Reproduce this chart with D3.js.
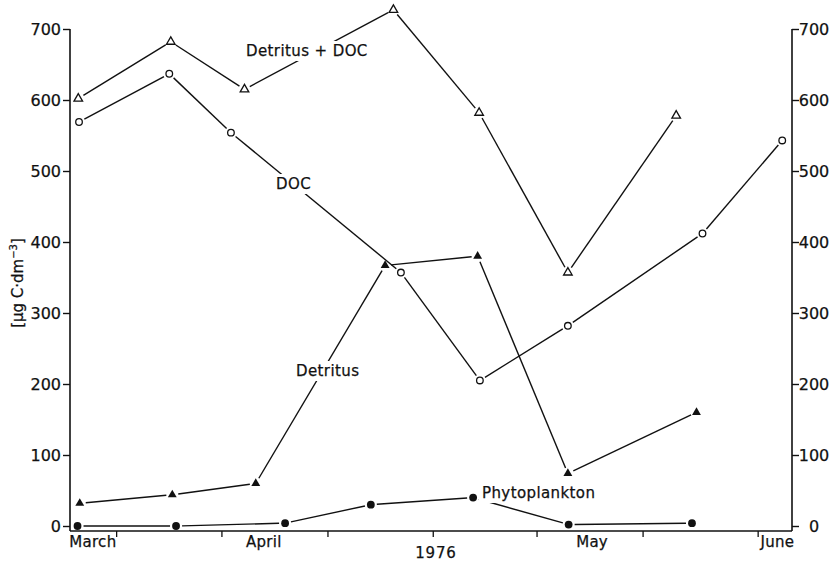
<!DOCTYPE html>
<html>
<head>
<meta charset="utf-8">
<script src="https://cdn.jsdelivr.net/npm/d3@7"></script>
<style>
  html, body { margin: 0; padding: 0; background: #fff; }
  svg { display: block; }
  text { font-family: "DejaVu Sans", sans-serif; fill: #111; stroke: #111; stroke-width: 0.25px; }
</style>
</head>
<body>
<svg id="chart" width="831" height="561"></svg>
<script>
// ---- Data (x in days after 1 March 1976, y in µg C·dm⁻³) ----
const detDocDays   = [1.1, 13.4, 23.2, 43.0, 54.4, 66.2, 80.6];
const detDocValues = [602, 682, 615, 727, 582, 357, 578];

const docDays   = [1.2, 13.2, 21.4, 44.0, 54.5, 66.2, 84.1, 94.7];
const docValues = [569, 637, 554, 357, 205, 282, 412, 543];

const detDays   = [1.3, 13.6, 24.7, 41.9, 54.2, 66.2, 83.3];
const detValues = [32, 44, 60, 367, 380, 74, 160];

const phytoDays   = [1.0, 14.1, 28.6, 40.0, 53.6, 66.3, 82.7];
const phytoValues = [0, 0, 4, 30, 40, 2, 4];

const yTicks = [0, 100, 200, 300, 400, 500, 600, 700];
const xTickDays = [6.2, 20.2, 34.3, 48.3, 62.1, 76.2, 91.5];
const monthNames = ["March", "April", "May", "June"];
const monthLabelDays = [-0.1, 23.4, 67.3, 91.8];
const yearLabel = "1976";
const yearLabelDay = 45.9;

const svg = d3.select("#chart");
const x = d3.scaleLinear().domain([0, 96]).range([70, 792]);
const y = d3.scaleLinear().domain([0, 700]).range([526, 29]);
const axisY = 531;

// axes lines
svg.append("line").attr("x1", x(0)).attr("x2", x(0)).attr("y1", y(700)).attr("y2", axisY)
  .attr("stroke", "#111").attr("stroke-width", 1.6);
svg.append("line").attr("x1", x(96)).attr("x2", x(96)).attr("y1", y(700)).attr("y2", axisY)
  .attr("stroke", "#111").attr("stroke-width", 1.6);
svg.append("line").attr("x1", x(0)).attr("x2", x(96)).attr("y1", axisY).attr("y2", axisY)
  .attr("stroke", "#111").attr("stroke-width", 1.6);

const leftAxis = d3.axisLeft(y).tickValues(yTicks).tickSize(7).tickPadding(2).tickFormat(d3.format("d"));
const gl = svg.append("g").attr("transform", `translate(${x(0)},0)`).call(leftAxis);
gl.select(".domain").remove();
gl.selectAll("line").attr("stroke", "#111").attr("stroke-width", 1.4);
gl.selectAll("text").attr("font-size", 16).attr("font-family", "DejaVu Sans").attr("fill", "#111");

const rightAxis = d3.axisRight(y).tickValues(yTicks).tickSize(7).tickPadding(0).tickFormat(d3.format("d"));
const gr = svg.append("g").attr("transform", `translate(${x(96)},0)`).call(rightAxis);
gr.select(".domain").remove();
gr.selectAll("line").attr("stroke", "#111").attr("stroke-width", 1.4);
gr.selectAll("text").attr("font-size", 16).attr("font-family", "DejaVu Sans").attr("fill", "#111")
  .attr("text-anchor", "middle").attr("x", 22);

// bottom ticks
svg.append("g").selectAll("line").data(xTickDays).join("line")
  .attr("x1", d => x(d)).attr("x2", d => x(d)).attr("y1", axisY).attr("y2", axisY + 6)
  .attr("stroke", "#111").attr("stroke-width", 1.3);

svg.append("g").selectAll("text").data(monthNames).join("text")
  .attr("x", (d, i) => x(monthLabelDays[i])).attr("y", 547)
  .attr("font-size", 15).attr("letter-spacing", 0.3).text(d => d);
svg.append("text").attr("x", x(yearLabelDay)).attr("y", 558).attr("font-size", 15)
  .attr("letter-spacing", 0.8).text(yearLabel);

// y axis title
const yt = svg.append("text").attr("transform", "translate(23,283) rotate(-90)")
  .attr("text-anchor", "middle").attr("font-size", 15);
yt.append("tspan").text("[µg C·dm");
yt.append("tspan").attr("font-size", 10).attr("dy", -6).text("−3");
yt.append("tspan").attr("dy", 6).text("]");

// series
function drawSeries(days, values, gap) {
  const pts = days.map((d, i) => [x(d), y(values[i])]);
  const g = svg.append("g");
  for (let i = 0; i < pts.length - 1; i++) {
    const [x1, y1] = pts[i], [x2, y2] = pts[i + 1];
    const len = Math.hypot(x2 - x1, y2 - y1);
    const ux = (x2 - x1) / len, uy = (y2 - y1) / len;
    g.append("line")
      .attr("x1", x1 + ux * gap).attr("y1", y1 + uy * gap)
      .attr("x2", x2 - ux * gap).attr("y2", y2 - uy * gap)
      .attr("stroke", "#111").attr("stroke-width", 1.4);
  }
  return pts;
}

const tri = d3.symbol().type(d3.symbolTriangle).size(32)();
const p1 = drawSeries(detDocDays, detDocValues, 6);
svg.append("g").selectAll("path").data(p1).join("path")
  .attr("d", tri).attr("transform", d => `translate(${d[0]},${d[1]})`)
  .attr("fill", "#fff").attr("stroke", "#111").attr("stroke-width", 1.3);

const p2 = drawSeries(docDays, docValues, 6);
svg.append("g").selectAll("circle").data(p2).join("circle")
  .attr("cx", d => d[0]).attr("cy", d => d[1]).attr("r", 3.3)
  .attr("fill", "#fff").attr("stroke", "#111").attr("stroke-width", 1.3);

const p3 = drawSeries(detDays, detValues, 6);
svg.append("g").selectAll("path").data(p3).join("path")
  .attr("d", d3.symbol().type(d3.symbolTriangle).size(34)()).attr("transform", d => `translate(${d[0]},${d[1]})`)
  .attr("fill", "#111");

const p4 = drawSeries(phytoDays, phytoValues, 6);
svg.append("g").selectAll("circle").data(p4).join("circle")
  .attr("cx", d => d[0]).attr("cy", d => d[1]).attr("r", 3.9).attr("fill", "#111");

// series labels (knock out lines behind them)
function label(txt, lx, ly) {
  const g = svg.append("g");
  const r = g.append("rect").attr("fill", "#fff");
  const t = g.append("text").attr("x", lx).attr("y", ly).attr("font-size", 15)
    .attr("letter-spacing", 0.4).text(txt);
  const b = t.node().getBBox();
  r.attr("x", b.x - 3).attr("y", b.y - 1).attr("width", b.width + 6).attr("height", b.height + 2);
}
label("Detritus + DOC", 246, 56);
label("DOC", 276, 189);
label("Detritus", 296, 376);
label("Phytoplankton", 482, 498);
</script>
</body>
</html>
